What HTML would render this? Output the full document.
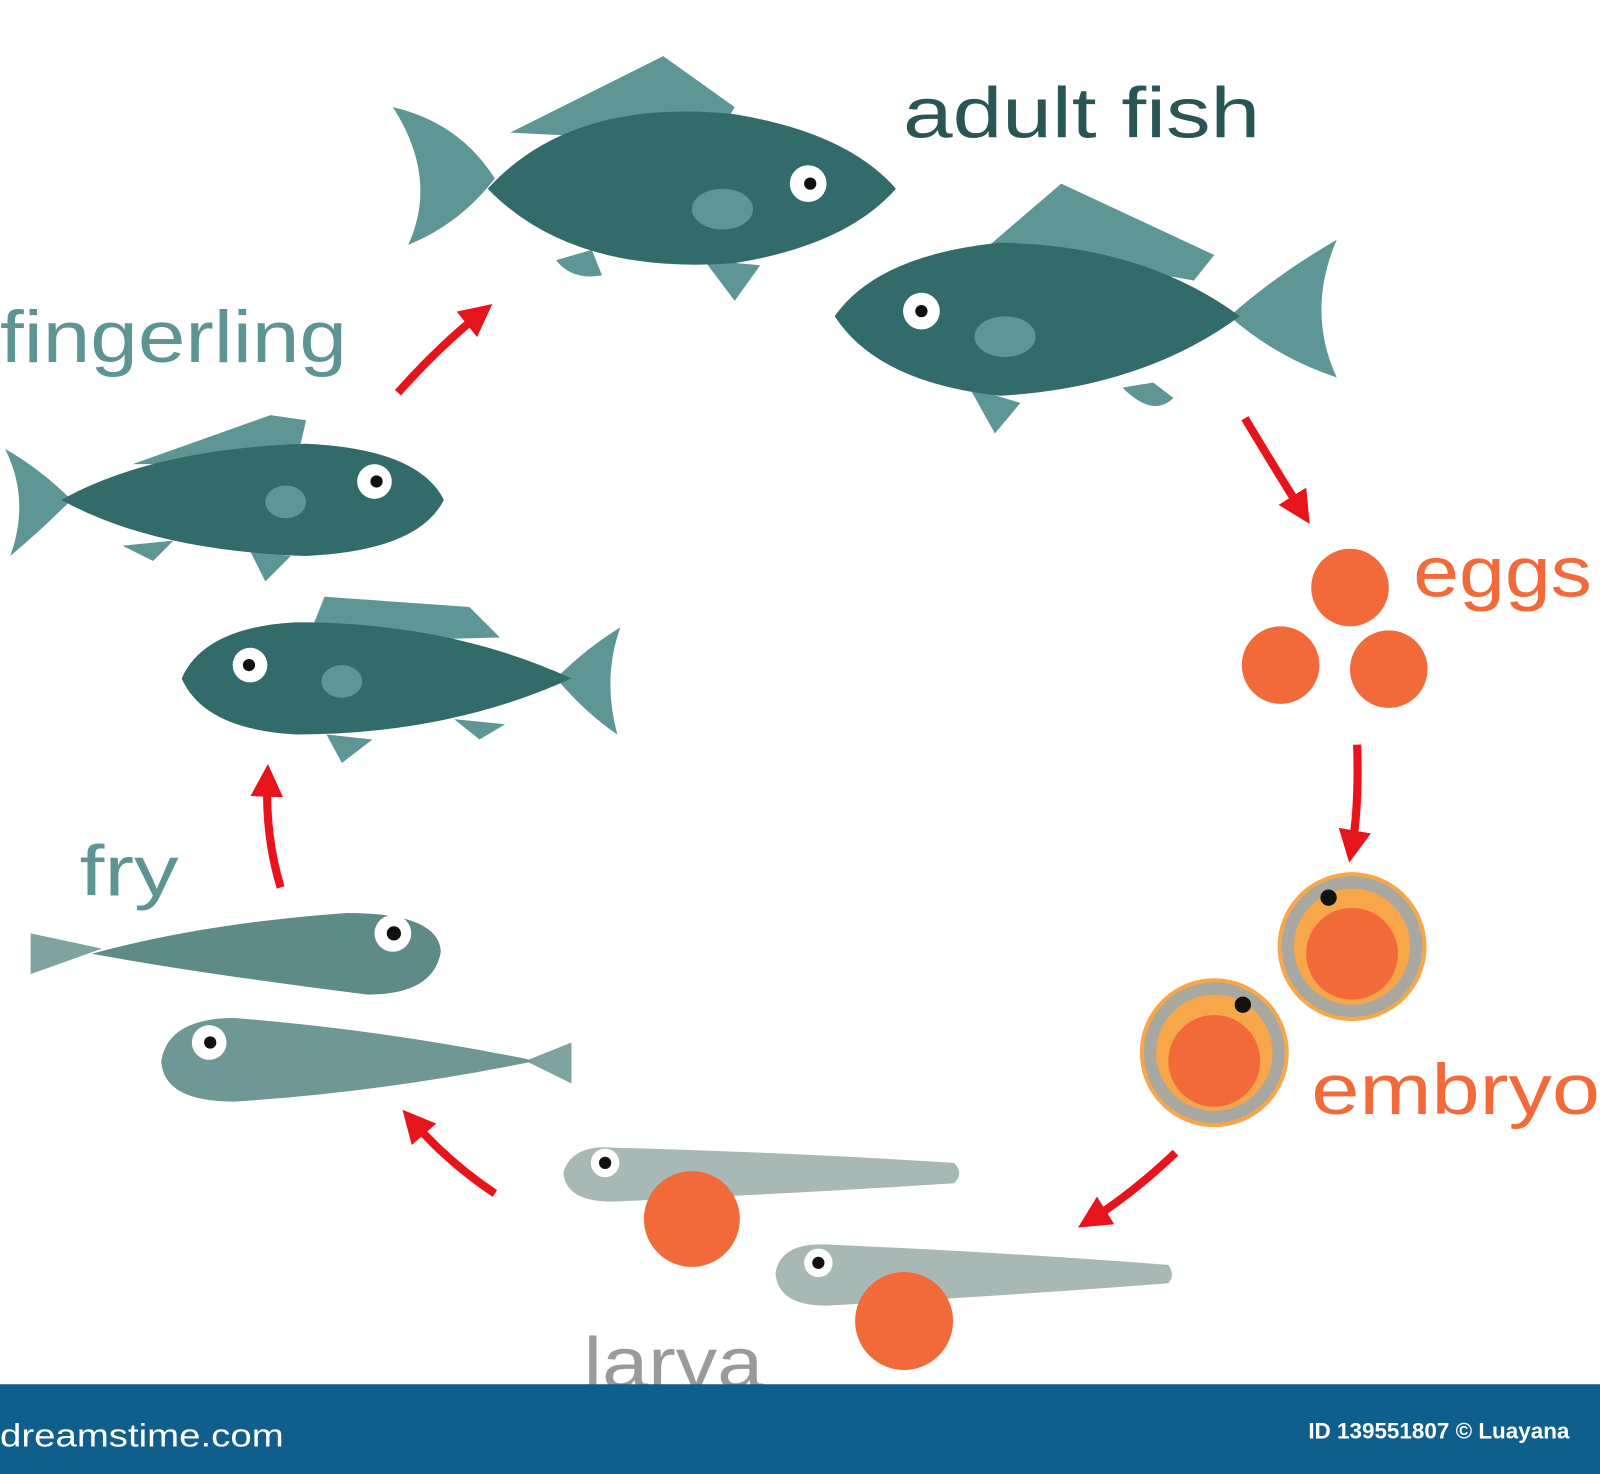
<!DOCTYPE html>
<html><head><meta charset="utf-8">
<style>
html,body{margin:0;padding:0;background:#fff;}
svg{display:block;}
text{font-family:"Liberation Sans",sans-serif;}
</style></head>
<body>
<svg width="1600" height="1474" viewBox="0 0 1568 1445" preserveAspectRatio="none" xmlns="http://www.w3.org/2000/svg">
<defs>
<marker id="ah" viewBox="0 0 10 10" refX="5" refY="5" markerWidth="4" markerHeight="4" orient="auto"><path d="M0,0 L10,5 L0,10 z" fill="#e8141c"/></marker>
</defs>
<rect width="1568" height="1445" fill="#fff"/>

<g>
<path d="M500,130 L650,55 L720,105 L700,140 Z" fill="#5e9696"/>
<path d="M385,105 Q450,120 485,175 Q450,220 400,240 Q430,175 385,105 Z" fill="#5e9696"/>
<path d="M545,255 Q560,275 590,270 L580,245 Z M690,255 L720,295 L745,260 Z" fill="#5e9696"/>
<path d="M478,185 Q560,95 720,112 Q830,130 878,185 Q830,240 720,258 Q560,270 478,185 Z" fill="#336b6b"/>
<circle cx="792" cy="180" r="18" fill="#fff"/><circle cx="794" cy="180" r="6" fill="#111"/>
<ellipse cx="708" cy="205" rx="30" ry="20" fill="#5e9696"/>
</g>
<g>
<path d="M970,240 L1040,180 L1190,250 L1170,275 Z" fill="#5e9696"/>
<path d="M1310,235 Q1280,305 1310,370 Q1250,350 1205,310 Q1250,270 1310,235 Z" fill="#5e9696"/>
<path d="M950,380 L975,425 L1000,395 Z M1100,380 Q1130,410 1150,390 L1130,375 Z" fill="#5e9696"/>
<path d="M818,310 Q860,250 980,238 Q1120,240 1215,310 Q1120,380 980,388 Q860,375 818,310 Z" fill="#336b6b"/>
<circle cx="903" cy="305" r="18" fill="#fff"/><circle cx="903" cy="305" r="6" fill="#111"/>
<ellipse cx="985" cy="330" rx="30" ry="20" fill="#5e9696"/>
</g>

<g>
<path d="M130,455 L265,407 L300,412 L290,455 Z" fill="#5e9696"/>
<path d="M5,440 Q40,460 70,490 Q40,520 10,545 Q30,490 5,440 Z" fill="#5e9696"/>
<path d="M120,535 L150,550 L170,530 Z M245,540 L260,570 L285,545 Z" fill="#5e9696"/>
<path d="M60,490 Q150,440 300,435 Q410,440 435,490 Q410,540 300,545 Q150,540 60,490 Z" fill="#336b6b"/>
<circle cx="367" cy="472" r="17" fill="#fff"/><circle cx="369" cy="472" r="6" fill="#111"/>
<ellipse cx="280" cy="492" rx="20" ry="16" fill="#5e9696"/>
</g>
<g>
<path d="M300,630 L318,585 L460,595 L490,625 Z" fill="#5e9696"/>
<path d="M608,615 Q590,665 605,720 Q575,700 545,665 Q575,635 608,615 Z" fill="#5e9696"/>
<path d="M320,720 L335,748 L365,725 Z M445,705 L470,725 L495,710 Z" fill="#5e9696"/>
<path d="M178,665 Q200,615 290,610 Q440,610 560,665 Q440,720 290,720 Q200,715 178,665 Z" fill="#336b6b"/>
<circle cx="245" cy="652" r="17" fill="#fff"/><circle cx="244" cy="652" r="6" fill="#111"/>
<ellipse cx="335" cy="668" rx="20" ry="16" fill="#5e9696"/>
</g>

<g>
<path d="M30,915 L100,930 L30,955 Z" fill="#7fa3a0"/>
<path d="M90,935 Q200,905 340,895 Q430,895 432,933 Q425,975 360,975 Q200,955 90,935 Z" fill="#5e8a88"/>
<circle cx="385" cy="915" r="18" fill="#fff"/><circle cx="386" cy="915" r="7" fill="#111"/>
</g>
<g>
<path d="M560,1022 L515,1040 L560,1062 Z" fill="#7fa3a0"/>
<path d="M158,1040 Q165,998 230,998 Q380,1010 525,1040 Q380,1070 230,1080 Q160,1080 158,1040 Z" fill="#6f9795"/>
<circle cx="205" cy="1022" r="17" fill="#fff"/><circle cx="206" cy="1022" r="6" fill="#111"/>
</g>

<g>
<path d="M552,1150 Q560,1122 600,1125 Q780,1130 935,1140 Q945,1150 935,1160 Q780,1170 600,1178 Q555,1178 552,1150 Z" fill="#a8b8b4"/>
<circle cx="593" cy="1140" r="14" fill="#fff"/><circle cx="593" cy="1140" r="6" fill="#111"/>
<circle cx="678" cy="1195" r="47" fill="#f26a3a"/>
</g>
<g>
<path d="M760,1248 Q765,1218 810,1220 Q990,1228 1145,1240 Q1152,1250 1145,1258 Q990,1270 810,1280 Q762,1280 760,1248 Z" fill="#a8b8b4"/>
<circle cx="802" cy="1238" r="14" fill="#fff"/><circle cx="802" cy="1238" r="6" fill="#111"/>
<circle cx="886" cy="1295" r="48" fill="#f26a3a"/>
</g>

<g>
<circle cx="1323" cy="576" r="38" fill="#f26a3a"/>
<circle cx="1255" cy="652" r="38" fill="#f26a3a"/>
<circle cx="1361" cy="656" r="38" fill="#f26a3a"/>
</g>

<g>
<circle cx="1325" cy="928" r="73" fill="#f7a64a"/>
<circle cx="1325" cy="928" r="63" fill="none" stroke="#a8a8a0" stroke-width="12"/>
<circle cx="1325" cy="935" r="45" fill="#f26a3a"/>
<circle cx="1302" cy="880" r="8" fill="#111"/>
</g>
<g>
<circle cx="1190" cy="1032" r="73" fill="#f7a64a"/>
<circle cx="1190" cy="1032" r="63" fill="none" stroke="#a8a8a0" stroke-width="12"/>
<circle cx="1190" cy="1040" r="45" fill="#f26a3a"/>
<circle cx="1218" cy="985" r="8" fill="#111"/>
</g>

<g stroke="#e8141c" stroke-width="8" fill="none" marker-end="url(#ah)">
<path d="M1220,410 Q1250,460 1275,500"/>
<path d="M1330,730 Q1332,790 1325,830"/>
<path d="M1152,1130 Q1110,1170 1070,1195"/>
<path d="M485,1170 Q440,1140 405,1100"/>
<path d="M275,870 Q260,820 262,765"/>
<path d="M390,385 Q430,340 470,308"/>
</g>

<text x="885" y="135" font-size="70" fill="#2a5555" textLength="350" lengthAdjust="spacingAndGlyphs">adult fish</text>
<text x="0" y="355" font-size="72" fill="#5f9494" textLength="340" lengthAdjust="spacingAndGlyphs">fingerling</text>
<text x="1385" y="585" font-size="70" fill="#f26a3a" textLength="175" lengthAdjust="spacingAndGlyphs">eggs</text>
<text x="1285" y="1092" font-size="70" fill="#f26a3a" textLength="283" lengthAdjust="spacingAndGlyphs">embryo</text>
<text x="78" y="878" font-size="70" fill="#5f9494" textLength="97" lengthAdjust="spacingAndGlyphs">fry</text>
<text x="572" y="1360" font-size="70" fill="#9a9a9a" textLength="176" lengthAdjust="spacingAndGlyphs">larva</text>

<rect x="0" y="1357" width="1568" height="88" fill="#0f5e8c"/>
<text x="0" y="1418" font-size="32" fill="#fff" textLength="278" lengthAdjust="spacingAndGlyphs">dreamstime.com</text>
<text x="1538" y="1410" font-size="22" font-weight="bold" fill="#fff" text-anchor="end">ID 139551807 © Luayana</text>
</svg>
</body></html>
